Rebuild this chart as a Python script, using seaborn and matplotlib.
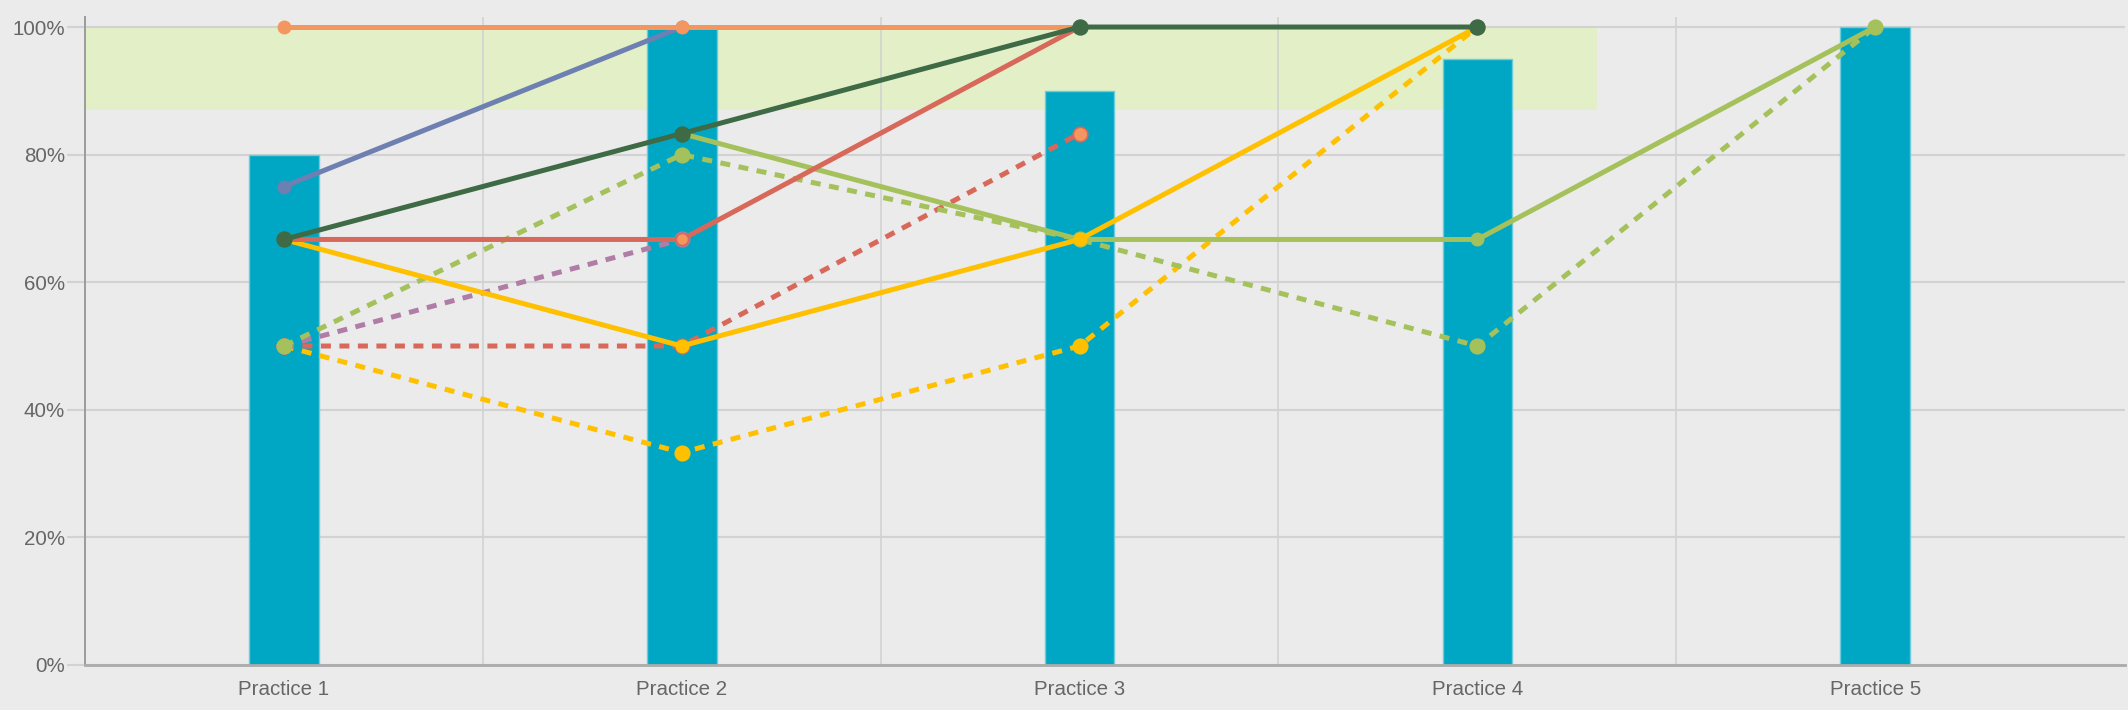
import numpy as np
import pandas as pd
import matplotlib
matplotlib.use("Agg")
import matplotlib.pyplot as plt
import seaborn as sns

# categories and bar values (%)
practices = ["Practice 1", "Practice 2", "Practice 3", "Practice 4", "Practice 5"]
bar_values = [80, 100, 90, 95, 100]

# individual lines (% per practice, None = no point)
orange_solid = [100, 100, 100, None, None]
blue_solid = [75, 100, None, None, None]
dkgreen_solid = [66.7, 83.3, 100, 100, None]
red_solid = [66.7, 66.7, 100, None, None]
yellow_solid = [66.7, 50, 66.7, 100, None]
ltgreen_solid = [None, 83.3, 66.7, 66.7, 100]
ltgreen_dash = [50, 80, 66.7, 50, 100]
purple_dash = [50, 66.7, None, None, None]
red_dash = [50, 50, 83.3, None, None]
yellow_dash = [50, 33.3, 50, 100, None]

y_ticks = [0, 20, 40, 60, 80, 100]
y_labels = ["0%", "20%", "40%", "60%", "80%", "100%"]

# target band
band_low, band_high = 87, 100

bg = "#EBEBEB"
grid_c = "#D2D2D2"
txt_c = "#666666"

sns.set_theme(style="white")
plt.rcParams["font.family"] = ["Liberation Sans", "DejaVu Sans"]

fig = plt.figure(figsize=(21.28, 7.10), dpi=100, facecolor=bg)
ax = fig.add_axes([85 / 2128, 45 / 710, 2040 / 2128, 648 / 710])
ax.set_facecolor(bg)

ax.fill_between([-0.5, 3.3], band_low, band_high, color="#E3F0C7", lw=0, zorder=0.5)

bars = pd.DataFrame({"practice": practices, "value": bar_values})
sns.barplot(data=bars, x="practice", y="value", color="#00A7C4", saturation=1,
            width=0.175, errorbar=None, ax=ax, zorder=2,
            edgecolor="#6CCBDC", linewidth=1)

xpos = np.arange(len(practices))

def draw(vals, color, dashed=False, face=None, msize=None):
    d = pd.DataFrame({"x": xpos, "y": vals}).dropna()
    n_before = len(ax.lines)
    sns.lineplot(data=d, x="x", y="y", ax=ax, color=color, sort=False)
    # make sure the styling sticks on the line seaborn just drew
    for ln in ax.lines[n_before:]:
        ln.set_linewidth(3.6)
        ln.set_linestyle((0, (2.0, 1.7)) if dashed else "-")
        ln.set_marker("o")
        ln.set_markersize(msize or (10.4 if dashed else 8.8))
        ln.set_markerfacecolor(face or color)
        ln.set_markeredgecolor(color)
        ln.set_markeredgewidth(1.2)
        ln.set_zorder(3)

draw(yellow_dash, "#FFC000", dashed=True)
draw(red_dash, "#D8695A", dashed=True, face="#F4965F")
draw(purple_dash, "#B07DA6", dashed=True)
draw(ltgreen_dash, "#A5C15B", dashed=True)
draw(ltgreen_solid, "#A5C15B")
draw(yellow_solid, "#FFC000")
draw(red_solid, "#D8695A", face="#F4965F")
draw(blue_solid, "#6E7FB2")
draw(orange_solid, "#F4965F")
draw(dkgreen_solid, "#3E6A46", msize=10.6)

ax.set_xlim(-0.5, 4.628)
ax.set_ylim(0, 101.57)
ax.set_xlabel("")
ax.set_ylabel("")

ax.set_xticks(xpos)
ax.set_xticklabels(practices)
ax.set_xticks(np.arange(-0.5, 4.0, 1.0), minor=True)
ax.set_yticks(y_ticks)
ax.set_yticklabels(y_labels)

ax.grid(False)
ax.yaxis.grid(True, color=grid_c, linewidth=1.5, zorder=0)
ax.xaxis.grid(True, which="minor", color=grid_c, linewidth=1.2, zorder=0)
ax.set_axisbelow(True)

ax.tick_params(axis="x", which="major", length=0, pad=11, labelsize=14.8, labelcolor=txt_c)
ax.tick_params(axis="x", which="minor", length=11.5, width=1.2, color=grid_c, direction="out")
ax.tick_params(axis="y", which="major", length=13, width=1.5, color=grid_c, pad=1.5,
               labelsize=14.8, labelcolor=txt_c, left=True)

for s in ["top", "right"]:
    ax.spines[s].set_visible(False)
ax.spines["left"].set_color("#9C9C9C")
ax.spines["left"].set_linewidth(1.4)
ax.spines["bottom"].set_color("#ABABAB")
ax.spines["bottom"].set_linewidth(2)
ax.spines["bottom"].set_zorder(2.5)

fig.savefig("out.png", dpi=100, facecolor=bg)
